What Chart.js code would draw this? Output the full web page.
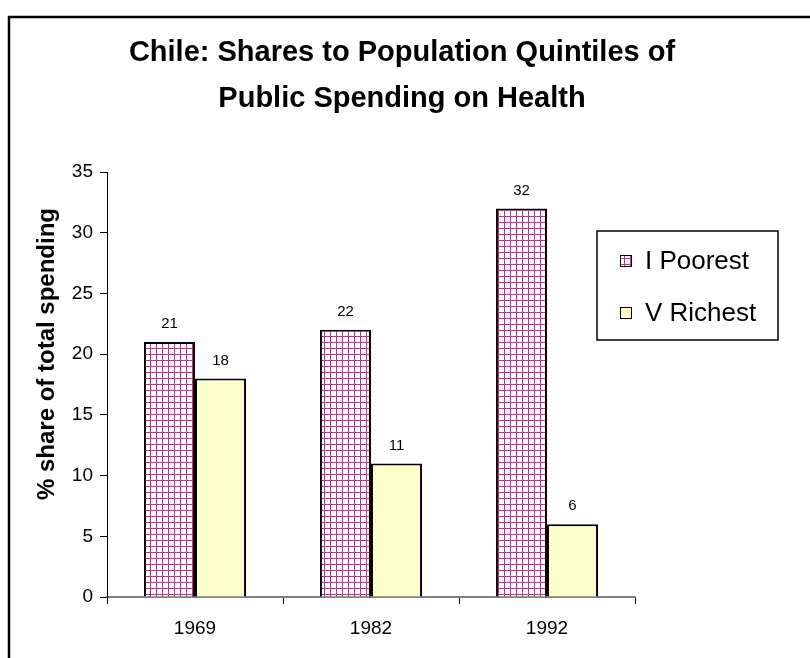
<!DOCTYPE html>
<html>
<head>
<meta charset="utf-8">
<script src="https://cdn.jsdelivr.net/npm/chart.js@4/dist/chart.umd.min.js"></script>
<style>
  html, body { margin: 0; padding: 0; background: #fff; }
  #wrap { position: relative; width: 810px; height: 658px; }
</style>
</head>
<body>
<div id="wrap"><canvas id="c" width="810" height="658"></canvas></div>
<script>
// Chile: shares of public health spending going to the poorest and richest quintiles
const years = ['1969', '1982', '1992'];
const poorest = [21, 22, 32];
const richest = [18, 11, 6];
const seriesNames = ['I Poorest', 'V Richest'];
const yTicks = [0, 5, 10, 15, 20, 25, 30, 35];
const titleLines = ['Chile: Shares to Population Quintiles of', 'Public Spending on Health'];
const yCaptionText = '% share of total spending';

const FONT = "'Liberation Sans', Arial, Helvetica, sans-serif";

// Small plum grid hatch used for the poorest-quintile bars
function gridPattern() {
  const p = document.createElement('canvas');
  p.width = 6; p.height = 6;
  const g = p.getContext('2d');
  g.fillStyle = '#ffffff';
  g.fillRect(0, 0, 6, 6);
  g.fillStyle = '#a5437c';
  g.fillRect(0, 0, 6, 1);
  g.fillRect(0, 0, 1, 6);
  return g.createPattern(p, 'repeat');
}
const hatch = gridPattern();

// Frame around the whole chart object
const framePlugin = {
  id: 'frame',
  beforeDraw(chart) {
    const ctx = chart.ctx;
    ctx.save();
    ctx.strokeStyle = '#000';
    ctx.lineWidth = 2.5;
    ctx.strokeRect(9, 17, 1000, 1000);
    ctx.restore();
  }
};

// Two-line bold title centred over the whole chart object
const titlePlugin = {
  id: 'bigTitle',
  afterDraw(chart) {
    const ctx = chart.ctx;
    ctx.save();
    ctx.font = 'bold 29px ' + FONT;
    ctx.fillStyle = '#000';
    ctx.textAlign = 'center';
    ctx.textBaseline = 'middle';
    ctx.fillText(titleLines[0], 402, 53);
    ctx.fillText(titleLines[1], 402, 99);
    ctx.restore();
  }
};

// Value labels above each bar
const valueLabels = {
  id: 'valueLabels',
  afterDatasetsDraw(chart) {
    const ctx = chart.ctx;
    ctx.save();
    ctx.font = '15px ' + FONT;
    ctx.fillStyle = '#000';
    ctx.textAlign = 'center';
    ctx.textBaseline = 'middle';
    chart.data.datasets.forEach((ds, i) => {
      chart.getDatasetMeta(i).data.forEach((bar, j) => {
        ctx.fillText(String(ds.data[j]), bar.x, bar.y - 18);
      });
    });
    ctx.restore();
  }
};

// Rotated y-axis caption
const yCaption = {
  id: 'yCaption',
  afterDraw(chart) {
    const ctx = chart.ctx;
    ctx.save();
    ctx.translate(47, 354);
    ctx.rotate(-Math.PI / 2);
    ctx.font = 'bold 24px ' + FONT;
    ctx.fillStyle = '#000';
    ctx.textAlign = 'center';
    ctx.textBaseline = 'middle';
    ctx.fillText(yCaptionText, 0, 0);
    ctx.restore();
  }
};

// Boxed legend on the right
const boxLegend = {
  id: 'boxLegend',
  afterDraw(chart) {
    const ctx = chart.ctx;
    const x = 597, y = 231, w = 181, h = 109;
    ctx.save();
    ctx.fillStyle = '#fff';
    ctx.fillRect(x, y, w, h);
    ctx.strokeStyle = '#000';
    ctx.lineWidth = 1.5;
    ctx.strokeRect(x, y, w, h);
    ctx.font = '26px ' + FONT;
    ctx.textAlign = 'left';
    ctx.textBaseline = 'middle';
    chart.data.datasets.forEach((ds, i) => {
      const cy = 261 + i * 52;
      ctx.fillStyle = ds.backgroundColor;
      ctx.fillRect(620, cy - 6, 12, 12);
      ctx.lineWidth = 1;
      ctx.strokeStyle = '#000';
      ctx.strokeRect(620.5, cy - 5.5, 11, 11);
      ctx.fillStyle = '#000';
      ctx.fillText(ds.label, 645, cy + 1);
    });
    ctx.restore();
  }
};

new Chart(document.getElementById('c'), {
  type: 'bar',
  data: {
    labels: years,
    datasets: [
      {
        label: seriesNames[0],
        data: poorest,
        backgroundColor: hatch,
        borderColor: '#000',
        borderWidth: 2,
        borderSkipped: 'bottom'
      },
      {
        label: seriesNames[1],
        data: richest,
        backgroundColor: '#ffffcc',
        borderColor: '#000',
        borderWidth: 2,
        borderSkipped: 'bottom'
      }
    ]
  },
  options: {
    responsive: false,
    animation: false,
    devicePixelRatio: 1,
    layout: { padding: { left: 0, right: 175, top: 172, bottom: 0 } },
    datasets: { bar: { categoryPercentage: 0.58, barPercentage: 1 } },
    plugins: {
      legend: { display: false },
      tooltip: { enabled: false },
      title: { display: false }
    },
    scales: {
      x: {
        afterFit(s) { s.height = 61; },
        grid: { offset: true, drawOnChartArea: false, drawTicks: true, tickLength: 7, color: '#000', lineWidth: 1 },
        border: { display: true, color: '#808080', width: 2 },
        ticks: { color: '#000', font: { family: FONT, size: 19 }, padding: 13, maxRotation: 0 }
      },
      y: {
        min: 0,
        max: 35,
        afterFit(s) { s.width = 107; },
        afterBuildTicks(s) { s.ticks = yTicks.map(v => ({ value: v })); },
        grid: { drawOnChartArea: false, drawTicks: true, tickLength: 7, color: '#000', lineWidth: 1 },
        border: { display: true, color: '#000', width: 1 },
        ticks: { color: '#000', font: { family: FONT, size: 19 }, padding: 7 }
      }
    }
  },
  plugins: [framePlugin, valueLabels, yCaption, boxLegend, titlePlugin]
});
</script>
</body>
</html>
